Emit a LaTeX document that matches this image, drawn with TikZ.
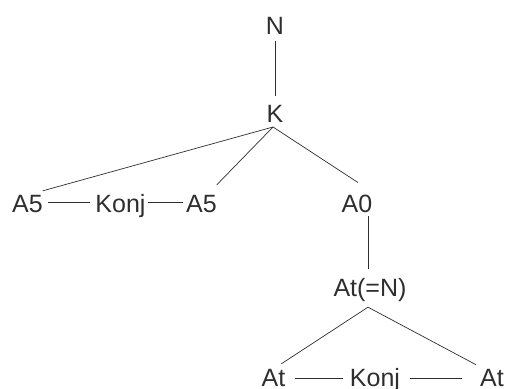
\documentclass[tikz,border=0pt]{standalone}
\usepackage{fontspec}
\setmainfont{Liberation Sans}
\begin{document}
\begin{tikzpicture}[x=1pt,y=1pt,
  lbl/.style={font=\fontsize{25}{30}\selectfont, text=black!82, inner sep=0pt, outer sep=0pt, anchor=base},
  conn/.style={draw=black!82, line width=0.7pt}]
\useasboundingbox (0,0) rectangle (505,-388);
\node[lbl] (N) at (275,-34) {N};
\node[lbl] (K) at (275,-122) {K};
\node[lbl] (A5a) at (27.5,-212) {A5};
\node[lbl] (Konja) at (120.5,-212) {Konj};
\node[lbl] (A5b) at (201.5,-212) {A5};
\node[lbl] (A0) at (357,-212) {A0};
\node[lbl] (AtN) at (370,-296) {At(=N)};
\node[lbl] (At1) at (273.5,-386) {At};
\node[lbl] (Konjb) at (375,-386) {Konj};
\node[lbl] (At2) at (492,-386) {At};
\draw[conn] ([yshift=-7pt]N.south) -- ([yshift=9pt]K.north);
\draw[conn] ([shift={(-2pt,-5pt)}]K.south) -- ([yshift=4pt]A5a.north east);
\draw[conn] ([shift={(-2pt,-5pt)}]K.south) -- ([yshift=10pt]A5b.north east);
\draw[conn] ([shift={(-2pt,-5pt)}]K.south) -- ([shift={(1pt,12pt)}]A0.north);
\draw[conn] ([shift={(5pt,10pt)}]A5a.base east) -- ([shift={(-5pt,10pt)}]Konja.base west);
\draw[conn] ([shift={(2pt,10pt)}]Konja.base east) -- ([shift={(-3pt,10pt)}]A5b.base west);
\draw[conn] ([shift={(-2pt,-4pt)}]AtN.north |- A0.south) -- ([shift={(-2pt,9pt)}]AtN.north);
\draw[conn] ([shift={(-2pt,-6pt)}]AtN.south) -- ([shift={(-4pt,5pt)}]At1.north east);
\draw[conn] ([shift={(-2pt,-6pt)}]AtN.south) -- ([shift={(-4pt,4pt)}]At2.north west);
\draw[conn] ([shift={(10pt,8pt)}]At1.base east) -- ([shift={(-7pt,8pt)}]Konjb.base west);
\draw[conn] ([shift={(10pt,8pt)}]Konjb.base east) -- ([shift={(-18pt,8pt)}]At2.base west);
\end{tikzpicture}
\end{document}
